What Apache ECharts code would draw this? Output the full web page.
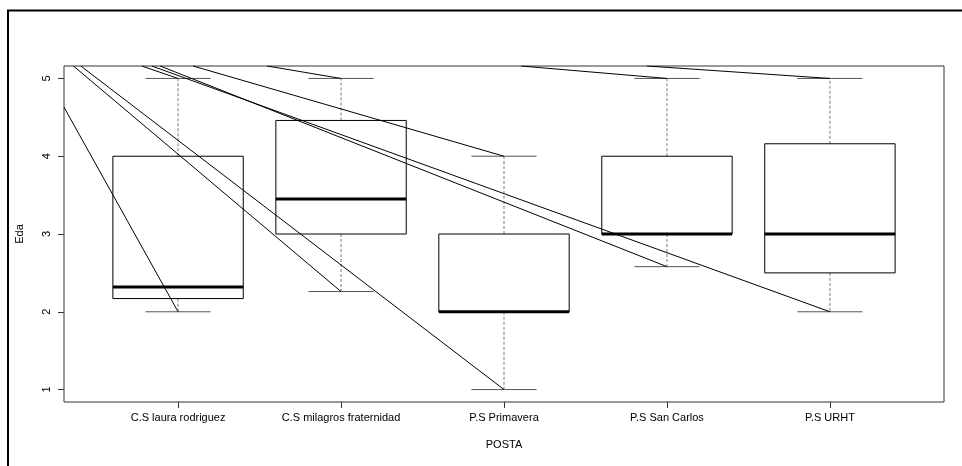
<!DOCTYPE html>
<html>
<head>
<meta charset="utf-8">
<script src="https://cdn.jsdelivr.net/npm/echarts@6/dist/echarts.min.js"></script>
<style>
  html, body { margin: 0; padding: 0; background: #fff; }
  #chart { width: 962px; height: 466px; }
</style>
</head>
<body>
<div id="chart"></div>
<script>
// Boxplot of Eda per POSTA
const categories = ['C.S laura rodriguez', 'C.S milagros fraternidad', 'P.S Primavera', 'P.S San Carlos', 'P.S URHT'];
const whiskerLow  = [2,    2.26, 1, 2.58, 2];
const q1          = [2.17, 3,    2, 3,    2.5];
const median      = [2.32, 3.45, 2, 3,    3];
const q3          = [4,    4.46, 3, 4,    4.16];
const whiskerHigh = [5,    5,    4, 5,    5];
const yTicks = [1, 2, 3, 4, 5];

// Stray strokes running from the top of the panel to each whisker end
const strayFromX  = [-0.7, -0.642, -0.597, -0.223, -0.161, -0.110, 0.092, 0.546, 2.104, 2.877];
const strayFromY  = [4.63, 5.16, 5.16, 5.16, 5.16, 5.16, 5.16, 5.16, 5.16, 5.16];
const strayToBox  = [0, 1, 2, 0, 4, 3, 2, 1, 3, 4];
const strayToEnd  = ['low', 'low', 'low', 'high', 'low', 'low', 'high', 'high', 'high', 'high'];

const boxData = categories.map((c, i) => [i, whiskerLow[i], q1[i], median[i], q3[i], whiskerHigh[i]]);
const strayData = strayFromX.map((x, k) => {
  const b = strayToBox[k];
  const yEnd = strayToEnd[k] === 'low' ? whiskerLow[b] : whiskerHigh[b];
  return { coords: [[x, strayFromY[k]], [b, yEnd]] };
});

const chart = echarts.init(document.getElementById('chart'), null, { renderer: 'canvas' });
const font = '"Liberation Sans", Arial, sans-serif';

chart.setOption({
  animation: false,
  backgroundColor: '#fff',
  graphic: [{
    type: 'polyline',
    shape: { points: [[8, 466], [8, 10.5], [962, 10.5]] },
    style: { stroke: '#000', lineWidth: 2, fill: null },
    silent: true
  }],
  grid: {
    left: 64, right: 18, top: 66, bottom: 64,
    show: true, borderColor: '#333', borderWidth: 1, backgroundColor: 'transparent'
  },
  xAxis: {
    type: 'value', min: -0.7, max: 4.7,
    name: 'POSTA', nameLocation: 'middle', nameGap: 37,
    nameTextStyle: { fontFamily: font, fontSize: 11, color: '#000' },
    axisLine: { show: false, onZero: false },
    splitLine: { show: false },
    axisTick: { show: true, length: 6, customValues: [0, 1, 2, 3, 4], lineStyle: { color: '#333' } },
    axisLabel: {
      customValues: [0, 1, 2, 3, 4],
      formatter: v => categories[Math.round(v)],
      fontFamily: font, fontSize: 11, color: '#000', margin: 10
    }
  },
  yAxis: {
    type: 'value', min: 0.84, max: 5.16,
    name: 'Eda', nameLocation: 'middle', nameGap: 39, nameRotate: 90,
    nameTextStyle: { fontFamily: font, fontSize: 11, color: '#000' },
    axisLine: { show: false, onZero: false },
    splitLine: { show: false },
    axisTick: { show: true, length: 6, customValues: yTicks, lineStyle: { color: '#333' } },
    axisLabel: {
      customValues: yTicks, rotate: 90,
      fontFamily: font, fontSize: 11, color: '#000', margin: 12
    }
  },
  series: [
    {
      type: 'custom',
      coordinateSystem: 'cartesian2d',
      data: boxData,
      encode: { x: 0, y: [1, 2, 3, 4, 5] },
      z: 2,
      renderItem: (params, api) => {
        const i = api.value(0);
        const unit = api.size([1, 0])[0];
        const halfBox = unit * 0.4;
        const halfCap = unit * 0.2;
        const pLow = api.coord([i, api.value(1)]);
        const pQ1 = api.coord([i, api.value(2)]);
        const pMed = api.coord([i, api.value(3)]);
        const pQ3 = api.coord([i, api.value(4)]);
        const pHigh = api.coord([i, api.value(5)]);
        const x = pMed[0];
        const whiskerStyle = { stroke: '#7a7a7a', lineWidth: 1, lineDash: [3, 2] };
        const capStyle = { stroke: '#555', lineWidth: 1 };
        return {
          type: 'group',
          children: [
            { type: 'line', shape: { x1: x, y1: pQ1[1], x2: x, y2: pLow[1] }, style: whiskerStyle },
            { type: 'line', shape: { x1: x, y1: pQ3[1], x2: x, y2: pHigh[1] }, style: whiskerStyle },
            { type: 'line', shape: { x1: x - halfCap, y1: pLow[1], x2: x + halfCap, y2: pLow[1] }, style: capStyle },
            { type: 'line', shape: { x1: x - halfCap, y1: pHigh[1], x2: x + halfCap, y2: pHigh[1] }, style: capStyle },
            { type: 'rect', shape: { x: x - halfBox, y: pQ3[1], width: halfBox * 2, height: pQ1[1] - pQ3[1] },
              style: { fill: null, stroke: '#000', lineWidth: 1 } },
            { type: 'line', shape: { x1: x - halfBox, y1: pMed[1], x2: x + halfBox, y2: pMed[1] },
              style: { stroke: '#000', lineWidth: 3 } }
          ]
        };
      }
    },
    {
      type: 'lines',
      coordinateSystem: 'cartesian2d',
      z: 3,
      lineStyle: { color: '#000', width: 1, opacity: 1 },
      data: strayData
    }
  ]
});
</script>
</body>
</html>
